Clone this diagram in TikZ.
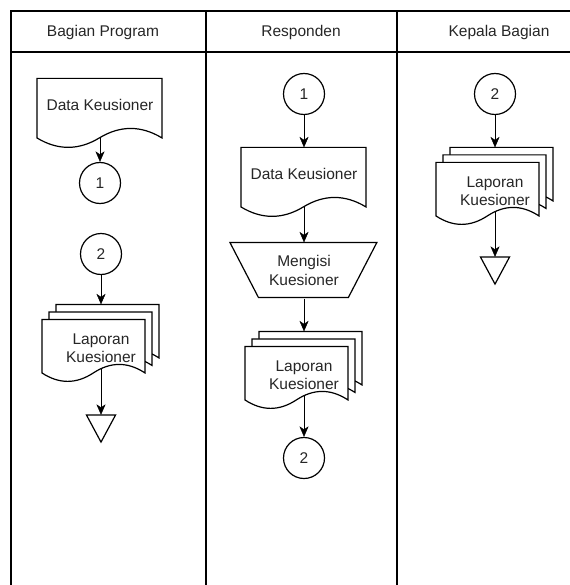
\documentclass[tikz,border=0pt]{standalone}
\usepackage{fontspec}
\setmainfont{Liberation Sans}
\usetikzlibrary{arrows.meta,backgrounds}

\begin{document}
\begin{tikzpicture}[x = 1pt, y = -1pt, line width = 1.2pt,
    font = \fontsize{15.5pt}{18.5pt}\selectfont, text = black!85,
    > = {Stealth[length = 10.5pt, width = 9pt, inset = 3pt]},
    conn/.style = {circle, draw, minimum size = 41pt, inner sep = 0pt},
    doc/.style = {minimum width = 125pt, minimum height = 52pt, inner sep = 0pt,
        append after command = {\pgfextra{
            \draw[fill = white, shift = {(\tikzlastnode.north west)}] (0,0) -- (125,0) -- (125,59.5)
                .. controls (104.2,46.9) and (83.3,46.9) .. (62.5,59.5)
                .. controls (41.7,72.1) and (20.8,72.1) .. (0,59.5) -- cycle;}}},
    mdoc/.style = {minimum width = 117pt, minimum height = 86pt, inner sep = 0pt, align = center,
        append after command = {\pgfextra{
            \draw[fill = white, shift = {(\tikzlastnode.north west)}, shift = {(14,0)}] (0,0) -- (103,0) -- (103,53.5)
                .. controls (85.8,42.2) and (68.7,42.2) .. (51.5,53.5)
                .. controls (34.3,64.8) and (17.2,64.8) .. (0,53.5) -- cycle;
            \draw[fill = white, shift = {(\tikzlastnode.north west)}, shift = {(7,7.5)}] (0,0) -- (103,0) -- (103,53.5)
                .. controls (85.8,42.2) and (68.7,42.2) .. (51.5,53.5)
                .. controls (34.3,64.8) and (17.2,64.8) .. (0,53.5) -- cycle;
            \draw[fill = white, shift = {(\tikzlastnode.north west)}, shift = {(0,15)}] (0,0) -- (103,0) -- (103,53.5)
                .. controls (85.8,42.2) and (68.7,42.2) .. (51.5,53.5)
                .. controls (34.3,64.8) and (17.2,64.8) .. (0,53.5) -- cycle;}}},
    manop/.style = {minimum width = 147pt, minimum height = 55pt, inner sep = 0pt, align = center,
        append after command = {\pgfextra{
            \draw[fill = white, shift = {(\tikzlastnode.north west)}] (0,0) -- (147,0) -- (118.5,55) -- (28.5,55) -- cycle;}}},
    sink/.style = {minimum width = 28pt, minimum height = 26pt, inner sep = 0pt,
        append after command = {\pgfextra{
            \draw (\tikzlastnode.north west) -- (\tikzlastnode.north east) -- (\tikzlastnode.south) -- cycle;}}}]
\useasboundingbox (0,0) rectangle (569,585);
\draw (11,590) -- (11,11) -- (620,11);
\draw (11,52) -- (620,52);
\draw (206,11) -- (206,590);
\draw (397,11) -- (397,590);
\node (h1) at (103,32) {Bagian Program};
\node (h2) at (301,32) {Responden};
\node (h3) at (499,32) {Kepala Bagian};
\node[doc] (dk1) at (100,105) {Data Keusioner};
\node[conn] (c1) at (100,183) {1};
\node[conn] (c2) at (101,254) {2};
\node[mdoc] (lk1) at (101,348) {Laporan\\Kuesioner};
\node[sink] (t1) at (101,428.5) {};
\node[conn] (c3) at (304,94) {1};
\node[doc] (dk2) at (304,174) {Data Keusioner};
\node[manop] (mk) at (304,270.5) {Mengisi\\Kuesioner};
\node[mdoc] (lk2) at (304,375) {Laporan\\Kuesioner};
\node[conn] (c4) at (304,458) {2};
\node[conn] (c5) at (495,94) {2};
\node[mdoc] (lk3) at (495,191) {Laporan\\Kuesioner};
\node[sink] (t2) at (495,270.5) {};
\begin{scope}[on background layer]
\draw[->] (dk1.center) -- (c1);
\draw[->] (c2) -- (lk1);
\draw[->] (lk1.center) -- (t1);
\draw[->] (c3) -- (dk2);
\draw[->] (dk2.center) -- (mk);
\draw[->] (mk) -- (lk2);
\draw[->] (lk2.center) -- (c4);
\draw[->] (c5) -- (lk3);
\draw[->] (lk3.center) -- (t2);
\end{scope}
\end{tikzpicture}
\end{document}
